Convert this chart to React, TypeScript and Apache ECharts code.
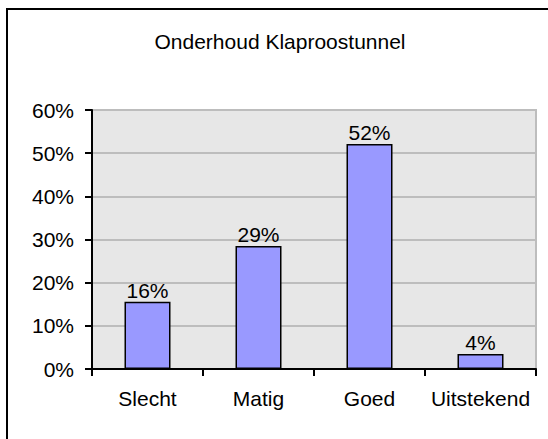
import React, { useEffect, useRef } from "react";
import * as echarts from "echarts";

const title = "Onderhoud Klaproostunnel";
const categories = ["Slecht", "Matig", "Goed", "Uitstekend"];
const values = [15.6, 28.5, 52.1, 3.5];
const yTicks = [0, 10, 20, 30, 40, 50, 60];

export default function App() {
  const ref = useRef<HTMLDivElement>(null);
  useEffect(() => {
    const chart = echarts.init(ref.current!, null, { renderer: "svg" });
    const font = "'Liberation Sans', Arial, sans-serif";
    chart.setOption({
      animation: false,
      backgroundColor: "#ffffff",
      graphic: [
        {
          type: "line",
          shape: { x1: 7, y1: 9, x2: 560, y2: 9 },
          style: { stroke: "#000", lineWidth: 2 },
        },
        {
          type: "line",
          shape: { x1: 7, y1: 8, x2: 7, y2: 460 },
          style: { stroke: "#000", lineWidth: 2 },
        },
        {
          type: "text",
          x: 280,
          y: 41,
          style: {
            text: title,
            fontFamily: font,
            fontSize: 21,
            fill: "#000",
            align: "center",
            verticalAlign: "middle",
          },
        },
      ],
      grid: {
        left: 92,
        right: 12,
        top: 110,
        bottom: 70,
        show: true,
        backgroundColor: "#e7e7e7",
        borderColor: "#bdbdbd",
        borderWidth: 2,
      },
      xAxis: {
        type: "category",
        data: categories,
        axisLine: { lineStyle: { color: "#000", width: 2 } },
        axisTick: { show: true, length: 7, lineStyle: { color: "#000", width: 2 } },
        axisLabel: { color: "#000", fontFamily: font, fontSize: 21, margin: 19, interval: 0 },
      },
      yAxis: {
        type: "value",
        min: yTicks[0],
        max: yTicks[yTicks.length - 1],
        interval: 10,
        axisLine: { show: true, lineStyle: { color: "#000", width: 2 } },
        axisTick: { show: true, length: 7, lineStyle: { color: "#000", width: 2 } },
        axisLabel: {
          color: "#000",
          fontFamily: font,
          fontSize: 21,
          margin: 18,
          formatter: (v: number) => `${v}%`,
        },
        splitLine: { show: true, lineStyle: { color: "#bdbdbd", width: 2 } },
      },
      series: [
        {
          type: "bar",
          data: values,
          barWidth: 46,
          itemStyle: { color: "#9999ff", borderColor: "#000", borderWidth: 1.5 },
          label: {
            show: true,
            position: "top",
            distance: 1,
            color: "#000",
            fontFamily: font,
            fontSize: 21,
            formatter: (p: any) => `${Math.round(p.value)}%`,
          },
        },
      ],
    });
    return () => chart.dispose();
  }, []);
  return (
    <div
      ref={ref}
      style={{ position: "absolute", left: 0, top: 0, width: 548, height: 439 }}
    />
  );
}
